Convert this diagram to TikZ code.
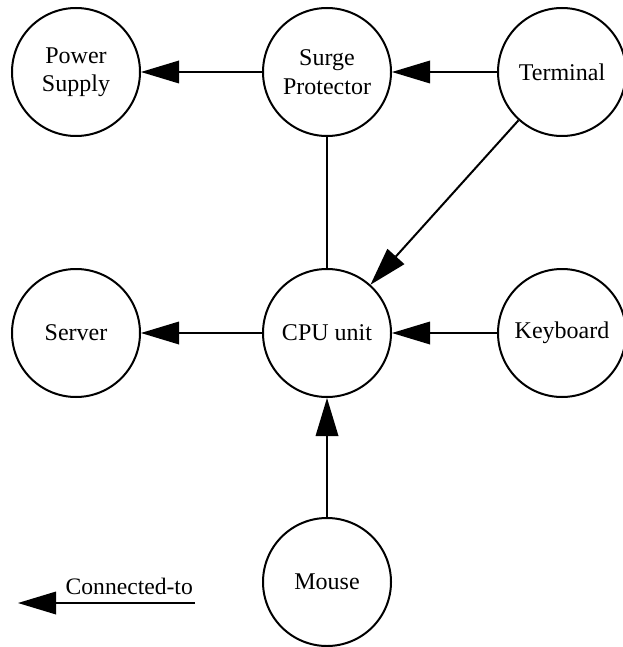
\documentclass[tikz,border=0pt]{standalone}
\usepackage{fontspec}
\setmainfont{Liberation Serif}
\usetikzlibrary{arrows.meta}
\tikzset{
  dev/.style={circle,draw,line width=2pt,minimum size=128pt,inner sep=0pt,align=center,
    font=\fontsize{24}{28.4}\selectfont},
  conn/.style={line width=2pt,-{Triangle[length=38pt,width=23pt,line width=0pt]}},
  link/.style={line width=2pt},
  lbl/.style={font=\fontsize{23.6}{28}\selectfont,inner sep=0pt}
}
\begin{document}
\begin{tikzpicture}[x=1pt,y=-1pt]
\useasboundingbox (0,0) rectangle (622,647);
\node[dev] (ps) at (76,72) {Power\\Supply};
\node[dev] (sp) at (327,72) {Surge\\Protector};
\node[dev] (term) at (562,72) {Terminal};
\node[dev] (srv) at (76,333) {Server};
\node[dev] (cpu) at (327,333) {CPU unit};
\node[dev] (kb) at (562,333) {Keyboard};
\node[dev] (mouse) at (327,582) {Mouse};
\draw[conn] (sp) -- (ps);
\draw[conn] (term) -- (sp);
\draw[conn] (term) -- (cpu);
\draw[link] (sp) -- (cpu);
\draw[conn] (cpu) -- (srv);
\draw[conn] (kb) -- (cpu);
\draw[conn] (mouse) -- (cpu);
\coordinate (legA) at (195,603);
\coordinate (legB) at (18,603);
\draw[conn] (legA) -- (legB);
\node[lbl,anchor=base east] (legtxt) at (193,594) {Connected-to};
\end{tikzpicture}
\end{document}
